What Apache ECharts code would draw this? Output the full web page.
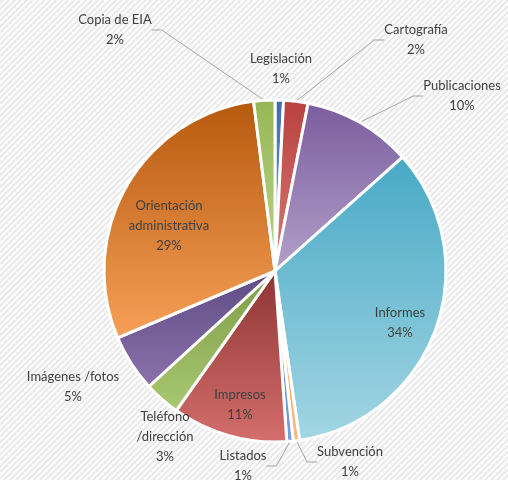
<!DOCTYPE html>
<html>
<head>
<meta charset="utf-8">
<script src="https://cdn.jsdelivr.net/npm/echarts@6/dist/echarts.min.js"></script>
<style>
html, body { margin: 0; padding: 0; }
#chart {
  width: 508px; height: 480px;
  background: repeating-linear-gradient(135deg, #ffffff 0px, #f6f6f6 1px, #e4e4e4 2.2px, #f6f6f6 3.3px, #ffffff 4.2px);
}
</style>
</head>
<body>
<div id="chart"></div>
<script>
// data (percent of requests)
var categories = ['Legislación', 'Cartografía', 'Publicaciones', 'Informes', 'Subvención', 'Listados',
  'Impresos', 'Teléfono\n/dirección', 'Imágenes /fotos', 'Orientación\nadministrativa', 'Copia de EIA']
var values = [0.8, 2.3, 10.3, 34.3, 0.6, 0.6, 10.9, 3.4, 5.4, 29.4, 2.0]

// gradient colours, top -> bottom
var colorTop = ['#3F6DA8', '#B8413E', '#7A5C9E', '#48A9C5', '#F0964A', '#4F81BD',
  '#8D3432', '#7F9C47', '#5E4B82', '#B5590D', '#97B755']
var colorBottom = ['#7FA4D4', '#D87B78', '#B2A1C9', '#A3D6E4', '#F9B98A', '#7BA0D0',
  '#D46F6C', '#A9C872', '#8B72AE', '#F8A058', '#B9D38A']

// where each label sits (centre of text block), and which have leader lines
var labelPos = [[281, 69], [416, 40], [462, 96], [400, 323], [350, 462], [243, 466],
  [240, 405], [165, 437], [73, 387], [169, 226], [115, 30]]
var noLine = [0, 3, 6, 7, 8, 9]

var total = values.reduce(function (a, b) { return a + b }, 0)

var seriesData = values.map(function (v, i) {
  return {
    name: categories[i],
    value: v,
    itemStyle: {
      color: new echarts.graphic.LinearGradient(0, 0, 0, 1, [
        { offset: 0, color: colorTop[i] },
        { offset: 1, color: colorBottom[i] },
      ]),
    },
    labelLine: { show: noLine.indexOf(i) < 0 },
  }
})

var myChart = echarts.init(document.getElementById('chart'))
var option = {
  animation: false,
  series: [
    {
      type: 'pie',
      center: [275, 271],
      radius: 171,
      startAngle: 90,
      clockwise: true,
      avoidLabelOverlap: false,
      itemStyle: { borderColor: '#ffffff', borderWidth: 3 },
      label: {
        show: true,
        position: 'outside',
        color: '#404040',
        fontFamily: 'Lato',
        fontSize: 13,
        lineHeight: 20,
        align: 'center',
        formatter: function (p) {
          return p.name + '\n' + Math.round(p.value / total * 100) + '%'
        },
      },
      labelLine: {
        length: 10,
        length2: 10,
        lineStyle: { color: '#a6a6a6', width: 1 },
      },
      labelLayout: function (params) {
        var p = labelPos[params.dataIndex]
        return { x: p[0], y: p[1], align: 'center', verticalAlign: 'middle' }
      },
      data: seriesData,
    },
  ],
}
myChart.setOption(option)
</script>
</body>
</html>
